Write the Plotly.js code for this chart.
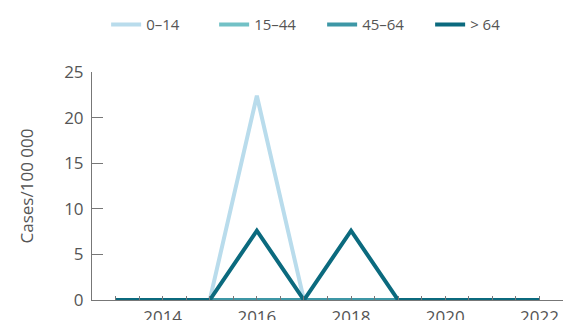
<!DOCTYPE html>
<html>
<head>
<meta charset="utf-8">
<script src="https://cdn.plot.ly/plotly-3.0.1.min.js"></script>
<style>html,body{margin:0;padding:0;background:#fff;}#chart{width:564px;height:320px;}</style>
</head>
<body>
<div id="chart"></div>
<script>
const years = [2013, 2014, 2015, 2016, 2017, 2018, 2019, 2020, 2021, 2022];
const seriesNames = ['0–14', '15–44', '45–64', '> 64'];
const age0to14 = [0, 0, 0, 22.4, 0, 0, 0, 0, 0, 0];
const age15to44 = [0, 0, 0, 0, 0, 0, 0, 0, 0, 0];
const age45to64 = [0, 0, 0, 0, 0, 0, 0, 0, 0, 0];
const age65plus = [0, 0, 0, 7.6, 0, 7.6, 0, 0, 0, 0];
const colors = ['#b9dcec', '#72c1c6', '#3d97a6', '#0b6a7e'];

const values = [age0to14, age15to44, age45to64, age65plus];
const traces = values.map((v, i) => ({
  x: years, y: v, name: seriesNames[i], type: 'scatter', mode: 'lines',
  line: {color: colors[i], width: 4}, cliponaxis: false
}));

const font = {family: 'Open Sans, Noto Sans, sans-serif', color: '#555', size: 14};
const layout = {
  width: 564, height: 320,
  margin: {l: 92, r: 1, t: 72, b: 20},
  paper_bgcolor: '#fff', plot_bgcolor: '#fff',
  font: font,
  showlegend: true,
  legend: {orientation: 'h', x: 0.03, xanchor: 'left', y: 1.28, yanchor: 'top',
           entrywidth: 63, font: {family: font.family, size: 15, color: '#555'},
           traceorder: 'normal'},
  xaxis: {range: [2012.5, 2022.5], showgrid: false, zeroline: false,
          showline: true, linecolor: '#777', linewidth: 1,
          ticks: 'inside', ticklen: 4, tickcolor: '#777', tick0: 2014, dtick: 2,
          minor: {ticks: 'inside', ticklen: 4, tickcolor: '#777', dtick: 0.5, tick0: 2012.5, showgrid: false},
          tickfont: {size: 17, color: '#555'}, ticklabelstandoff: 2},
  yaxis: {range: [0, 25], showgrid: false, zeroline: false,
          showline: true, linecolor: '#777', linewidth: 1,
          ticks: 'inside', ticklen: 11, tickcolor: '#777', tickwidth: 1, dtick: 5,
          tickfont: {size: 17, color: '#555'}, ticklabelstandoff: 4,
          title: {text: 'Cases/100 000', font: {size: 17, color: '#555'}, standoff: 26}}
};
Plotly.newPlot('chart', traces, layout, {displayModeBar: false, staticPlot: true});
</script>
</body>
</html>
